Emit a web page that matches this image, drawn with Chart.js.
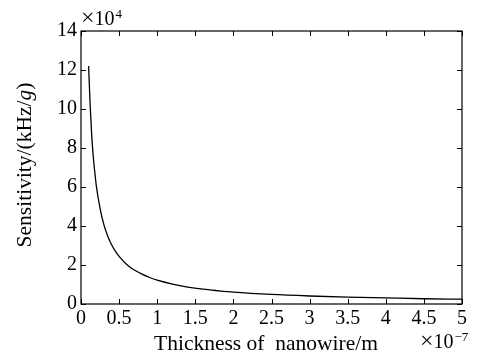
<!DOCTYPE html>
<html>
<head>
<meta charset="utf-8">
<script src="https://cdn.jsdelivr.net/npm/chart.js@4/dist/chart.umd.min.js"></script>
<style>
html,body{margin:0;padding:0;background:#fff;}
#c{display:block;}
</style>
</head>
<body>
<canvas id="c" width="477" height="354"></canvas>
<script>
// Thickness of nanowire (×10^-7 m)
const thickness = [0.1,0.12,0.14,0.16,0.18,0.2,0.25,0.3,0.35,0.4,0.45,0.5,0.6,0.7,0.8,0.9,1.0,1.2,1.4,1.6,1.8,2.0,2.5,3.0,3.5,4.0,4.5,5.0];
// Sensitivity (×10^4 kHz/g)
const sensitivity = [12.2,10.2,8.7,7.6,6.8,6.1,4.9,4.07,3.49,3.05,2.71,2.44,2.03,1.74,1.53,1.36,1.22,1.02,0.87,0.76,0.68,0.61,0.49,0.41,0.35,0.31,0.27,0.245];
const xTicks = [0,0.5,1,1.5,2,2.5,3,3.5,4,4.5,5];
const yTicks = [0,2,4,6,8,10,12,14];
const xTitle = "Thickness of  nanowire/m";
const yTitleParts = [["Sensitivity/(kHz/","normal"],["g","italic"],[")","normal"]];
const xExp = "\u22127";
const yExp = "4";

const FONT = '"Liberation Serif","Times New Roman",serif';
const FS = 20;     // tick labels
const TFS = 21.5;  // axis titles

const points = thickness.map((t,i)=>({x:t,y:sensitivity[i]}));

function drawExp(ctx, x, y, exp){
  ctx.textAlign = 'left';
  ctx.font = '24px '+FONT;
  ctx.fillText('\u00d7', x, y);
  x += ctx.measureText('\u00d7').width;
  ctx.font = FS+'px '+FONT;
  ctx.fillText('10', x, y);
  x += ctx.measureText('10').width + 1;
  ctx.font = '13px '+FONT;
  ctx.fillText(exp, x, y-7);
}

const framePlugin = {
  id:'frame',
  afterDraw(chart){
    const ctx = chart.ctx, a = chart.chartArea;
    const xs = chart.scales.x, ys = chart.scales.y;
    ctx.save();
    ctx.strokeStyle = '#000';
    ctx.lineWidth = 1.2;
    ctx.strokeRect(a.left, a.top, a.right-a.left, a.bottom-a.top);
    const L = 5;
    ctx.lineWidth = 1;
    ctx.beginPath();
    xTicks.forEach(v=>{
      const px = Math.round(xs.getPixelForValue(v))+0.5;
      ctx.moveTo(px,a.bottom); ctx.lineTo(px,a.bottom-L);
      ctx.moveTo(px,a.top); ctx.lineTo(px,a.top+L);
    });
    yTicks.forEach(v=>{
      const py = Math.round(ys.getPixelForValue(v))+0.5;
      ctx.moveTo(a.left,py); ctx.lineTo(a.left+L,py);
      ctx.moveTo(a.right,py); ctx.lineTo(a.right-L,py);
    });
    ctx.stroke();

    ctx.fillStyle = '#000';
    // x title
    ctx.font = TFS+'px '+FONT;
    ctx.textAlign = 'center';
    ctx.textBaseline = 'alphabetic';
    ctx.fillText(xTitle, 266, 350);

    // y title (rotated, mixed italic)
    ctx.save();
    ctx.translate(31, 165);
    ctx.rotate(-Math.PI/2);
    let total = 0;
    yTitleParts.forEach(([t,s])=>{ ctx.font = s+' '+TFS+'px '+FONT; total += ctx.measureText(t).width; });
    let x0 = -total/2;
    ctx.textAlign = 'left';
    yTitleParts.forEach(([t,s])=>{ ctx.font = s+' '+TFS+'px '+FONT; ctx.fillText(t, x0, 0); x0 += ctx.measureText(t).width; });
    ctx.restore();

    drawExp(ctx, a.left, 25, yExp);
    drawExp(ctx, 420, 348, xExp);
    ctx.restore();
  }
};

new Chart(document.getElementById('c'), {
  type:'line',
  data:{ datasets:[{ data:points, borderColor:'#000', borderWidth:1.3, pointRadius:0, fill:false, cubicInterpolationMode:'monotone' }] },
  options:{
    responsive:false, animation:false,
    layout:{ padding:{ top:31, right:15, left:0, bottom:0 } },
    plugins:{ legend:{display:false}, tooltip:{enabled:false} },
    scales:{
      x:{
        type:'linear', min:0, max:5,
        afterBuildTicks(s){ s.ticks = xTicks.map(v=>({value:v})); },
        afterFit(s){ s.height = 50; },
        grid:{ display:false, drawTicks:false },
        border:{ display:false },
        ticks:{ color:'#000', padding:3, maxRotation:0, autoSkip:false, font:{ family:FONT, size:FS },
          callback:(v)=>String(v) }
      },
      y:{
        type:'linear', min:0, max:14,
        afterBuildTicks(s){ s.ticks = yTicks.map(v=>({value:v})); },
        afterFit(s){ s.width = 81; },
        grid:{ display:false, drawTicks:false },
        border:{ display:false },
        ticks:{ color:'#000', padding:4, autoSkip:false, font:{ family:FONT, size:FS },
          callback:(v)=>String(v) }
      }
    }
  },
  plugins:[framePlugin]
});
</script>
</body>
</html>
